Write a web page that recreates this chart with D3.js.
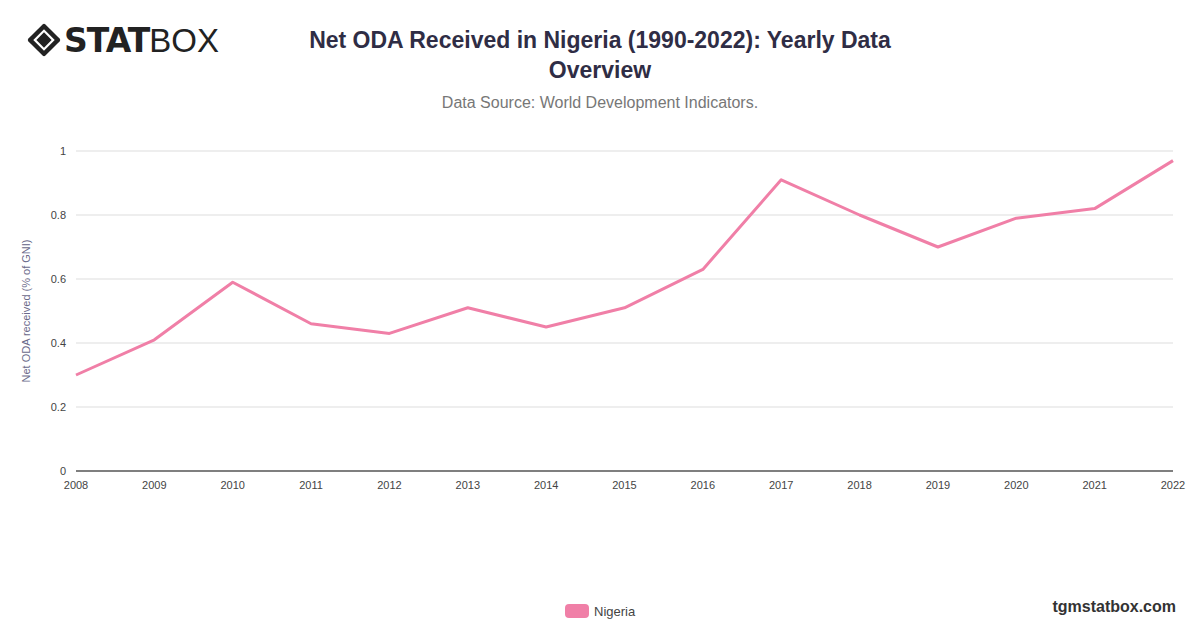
<!DOCTYPE html>
<html lang="en">
<head>
<meta charset="UTF-8">
<script src="https://d3js.org/d3.v7.min.js"></script>
<style>
  body { margin: 0; background: #fff; font-family: "Helvetica Neue", Arial, "Liberation Sans", sans-serif; }
</style>
</head>
<body>
<svg id="chart" width="1200" height="628"></svg>
<script>
const years = [2008, 2009, 2010, 2011, 2012, 2013, 2014, 2015, 2016, 2017, 2018, 2019, 2020, 2021, 2022];
const odaValues = [0.30, 0.41, 0.59, 0.46, 0.43, 0.51, 0.45, 0.51, 0.63, 0.91, 0.80, 0.70, 0.79, 0.82, 0.97];
const yTicks = [0, 0.2, 0.4, 0.6, 0.8, 1];
const seriesName = "Nigeria";

const svg = d3.select("svg#chart");
const margin = {top: 151, right: 27, bottom: 157, left: 76};
const chartWidth = 1200 - margin.left - margin.right;
const chartHeight = 628 - margin.top - margin.bottom;
const color = "#f07fa7";

// logo
const logo = svg.append("g").attr("transform", "translate(44,40)");
logo.append("rect").attr("x", -12).attr("y", -12).attr("width", 24).attr("height", 24)
    .attr("transform", "rotate(45)").attr("fill", "#222").attr("rx", 2);
logo.append("rect").attr("x", -6.5).attr("y", -6.5).attr("width", 13).attr("height", 13)
    .attr("transform", "rotate(45)").attr("fill", "none").attr("stroke", "#fff").attr("stroke-width", 2.2);
svg.append("text").attr("x", 64).attr("y", 52).attr("font-size", 33).attr("font-weight", 900)
    .attr("fill", "#222").attr("font-family", "DejaVu Sans, sans-serif").attr("letter-spacing", -1)
    .text("STAT")
  .append("tspan").attr("font-weight", 300).attr("font-family", "Liberation Sans, sans-serif").attr("letter-spacing", 0).text("BOX");

// titles
svg.append("text").attr("x", 600).attr("y", 48).attr("text-anchor", "middle")
   .attr("font-size", 23).attr("font-weight", 700).attr("fill", "#2f2d45")
   .text("Net ODA Received in Nigeria (1990-2022): Yearly Data");
svg.append("text").attr("x", 600).attr("y", 78).attr("text-anchor", "middle")
   .attr("font-size", 23).attr("font-weight", 700).attr("fill", "#2f2d45").text("Overview");
svg.append("text").attr("x", 600).attr("y", 108).attr("text-anchor", "middle")
   .attr("font-size", 16).attr("fill", "#777").text("Data Source: World Development Indicators.");

const x = d3.scaleLinear().domain([2008, 2022]).range([0, chartWidth]);
const y = d3.scaleLinear().domain([0, 1]).range([chartHeight, 0]);

const g = svg.append("g").attr("transform", `translate(${margin.left},${margin.top})`);

// grid + y labels
g.selectAll("line.grid").data(yTicks).join("line").attr("class", "grid")
  .attr("x1", 0).attr("x2", chartWidth).attr("y1", d => y(d)).attr("y2", d => y(d))
  .attr("stroke", d => d === 0 ? "#555" : "#ddd").attr("stroke-width", d => d === 0 ? 1.5 : 1);
g.selectAll("text.ytick").data(yTicks).join("text").attr("class", "ytick")
  .attr("x", -10).attr("y", d => y(d) + 4).attr("text-anchor", "end")
  .attr("font-size", 11).attr("fill", "#444").text(d => d);

// x labels
g.selectAll("text.xtick").data(years).join("text").attr("class", "xtick")
  .attr("x", d => x(d)).attr("y", chartHeight + 18).attr("text-anchor", "middle")
  .attr("font-size", 11).attr("fill", "#444").text(d => d);

svg.append("text").attr("transform", `translate(30,${margin.top + chartHeight / 2}) rotate(-90)`)
   .attr("text-anchor", "middle").attr("font-size", 11).attr("fill", "#6b6a8a")
   .text("Net ODA received (% of GNI)");

const line = d3.line().x((d, i) => x(years[i])).y(d => y(d));
g.append("path").datum(odaValues).attr("fill", "none").attr("stroke", color)
  .attr("stroke-width", 3).attr("stroke-linejoin", "round").attr("d", line);

// legend
svg.append("rect").attr("x", 565).attr("y", 604).attr("width", 24).attr("height", 14)
   .attr("rx", 4).attr("fill", color);
svg.append("text").attr("x", 594).attr("y", 616).attr("font-size", 13).attr("fill", "#444").text(seriesName);

svg.append("text").attr("x", 1176).attr("y", 612).attr("text-anchor", "end")
   .attr("font-size", 16).attr("font-weight", 700).attr("fill", "#333").text("tgmstatbox.com");
</script>
</body>
</html>
